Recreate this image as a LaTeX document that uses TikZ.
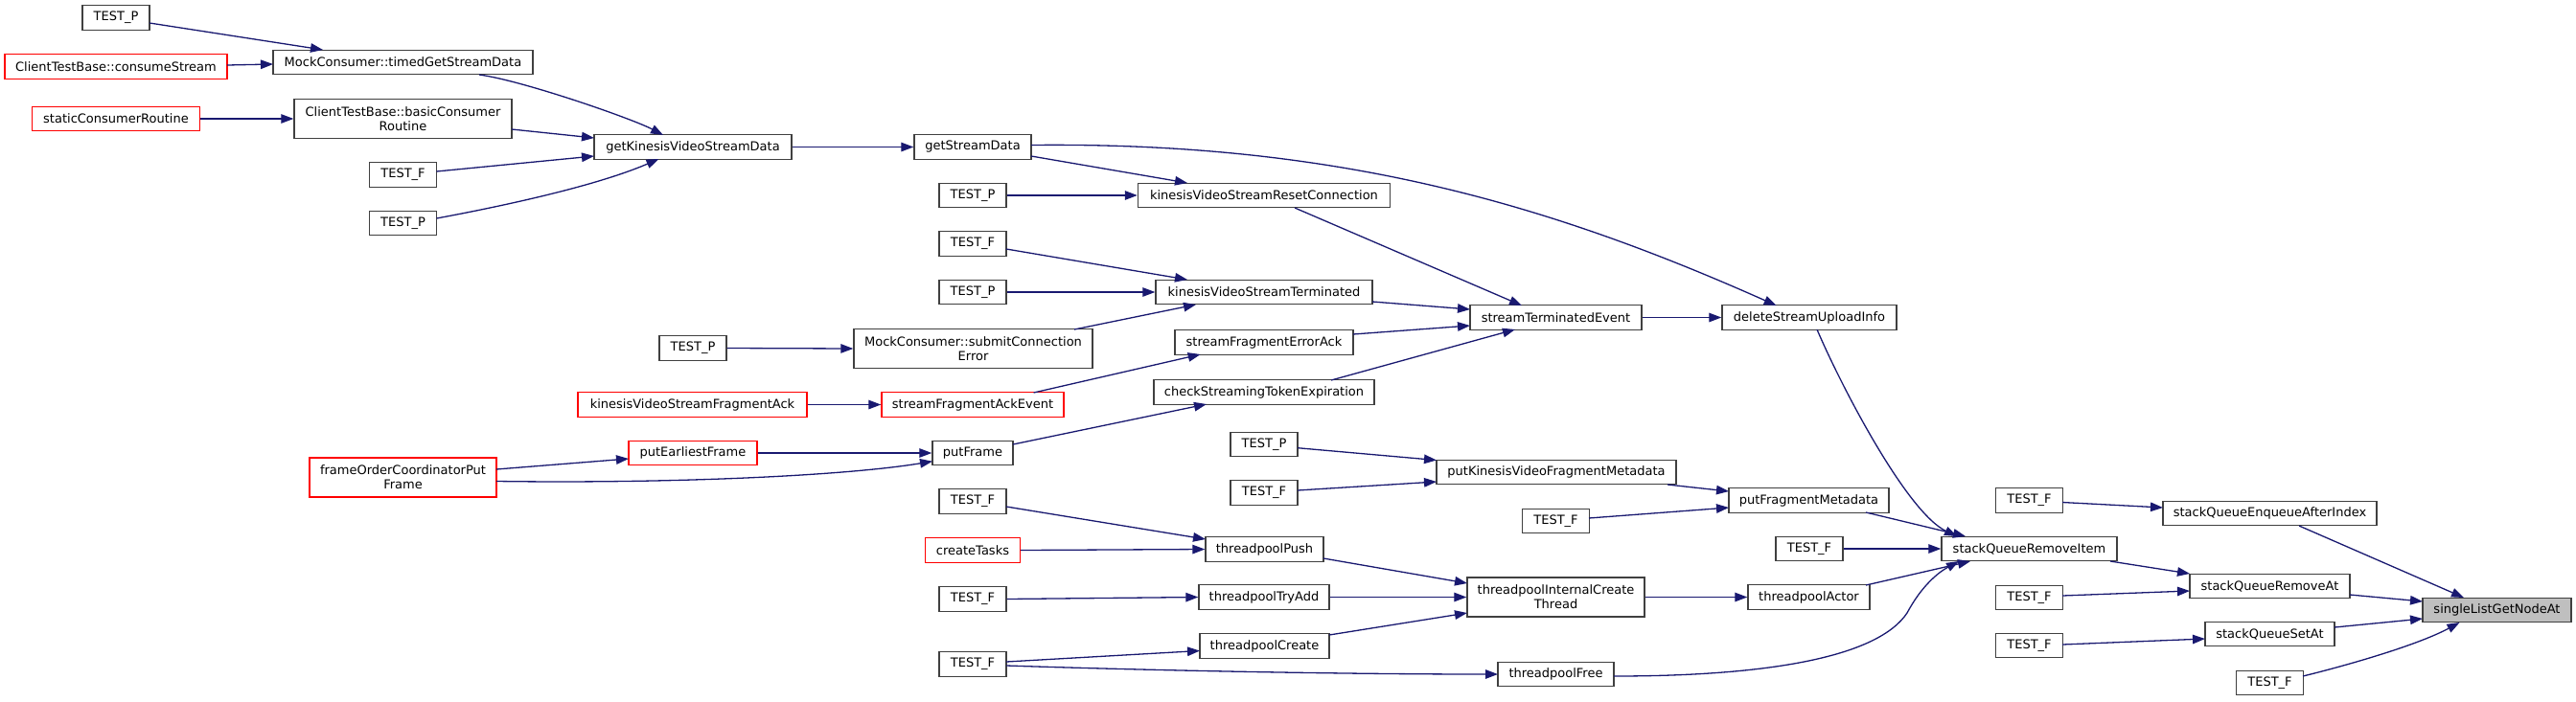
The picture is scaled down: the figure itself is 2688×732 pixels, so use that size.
\documentclass[tikz,border=0pt]{standalone}
\usepackage{fontspec}
\setmainfont{DejaVu Sans}
\usetikzlibrary{arrows.meta}
\definecolor{edgeblue}{HTML}{191970}
\definecolor{boxgray}{HTML}{404040}
\definecolor{fillgray}{HTML}{BFBFBF}
\definecolor{boxred}{HTML}{FF0000}
\tikzset{
  fn/.style={draw=boxgray, line width=1.4pt, fill=white, inner sep=0pt,
    minimum height=25.5pt, font=\fontsize{13}{15}\selectfont, align=center},
  redfn/.style={fn, draw=boxred},
  curfn/.style={fn, fill=fillgray},
  tall/.style={minimum height=41pt},
  tbox/.style={fn, minimum width=70pt},
  call/.style={draw=edgeblue, line width=1.3pt, -{Triangle[length=13pt,width=9.5pt]}},
}
\begin{document}
\begin{tikzpicture}[x=1pt,y=-1pt]
\useasboundingbox (0,0) rectangle (2688,732);
% column 0
\node[tbox] (tp1) at (121,18.5) {TEST\_P};
\node[redfn, minimum width=232pt] (cs) at (121,69.5) {ClientTestBase::consumeStream};
\node[redfn, minimum width=175pt] (scr) at (121,124) {staticConsumerRoutine};
% column 1
\node[fn, minimum width=271pt] (tgs) at (420.5,65) {MockConsumer::timedGetStreamData};
\node[fn, tall, minimum width=227pt] (bcr) at (420.5,124) {ClientTestBase::basicConsumer\\Routine};
\node[tbox] (tf1) at (420.5,182.5) {TEST\_F};
\node[tbox] (tp2) at (420.5,233) {TEST\_P};
\node[redfn, tall, minimum width=195pt] (fop) at (420.5,498.5) {frameOrderCoordinatorPut\\Frame};
% column 2
\node[fn, minimum width=206pt] (gkv) at (723,153.5) {getKinesisVideoStreamData};
\node[tbox] (tp3) at (723,363.5) {TEST\_P};
\node[redfn, minimum width=239pt] (kfa) at (722.5,422.5) {kinesisVideoStreamFragmentAck};
\node[redfn, minimum width=134pt] (pef) at (723,473) {putEarliestFrame};
% column 3
\node[fn, minimum width=122pt] (gsd) at (1015,153.5) {getStreamData};
\node[tbox] (tp4) at (1015,204) {TEST\_P};
\node[tbox] (tf2) at (1015,254.5) {TEST\_F};
\node[tbox] (tp5) at (1015,305) {TEST\_P};
\node[fn, tall, minimum width=249pt] (sce) at (1015.5,364) {MockConsumer::submitConnection\\Error};
\node[redfn, minimum width=190pt] (sfa) at (1015,422.5) {streamFragmentAckEvent};
\node[fn, minimum width=84pt] (pf) at (1015,473) {putFrame};
\node[tbox] (tf3) at (1015,523.5) {TEST\_F};
\node[redfn, minimum width=99pt] (ct) at (1015,574.5) {createTasks};
\node[tbox] (tf4) at (1015,625.5) {TEST\_F};
\node[tbox] (tf5) at (1015,693.5) {TEST\_F};
% column 4
\node[fn, minimum width=263pt] (krc) at (1319,204) {kinesisVideoStreamResetConnection};
\node[fn, minimum width=226pt] (kst) at (1319,305) {kinesisVideoStreamTerminated};
\node[fn, minimum width=186pt] (sfe) at (1319,357.5) {streamFragmentErrorAck};
\node[fn, minimum width=230pt] (cst) at (1319,409.5) {checkStreamingTokenExpiration};
\node[tbox] (tp6) at (1319,464) {TEST\_P};
\node[tbox] (tf6) at (1319,514.5) {TEST\_F};
\node[fn, minimum width=123pt] (tpp) at (1319.5,573.5) {threadpoolPush};
\node[fn, minimum width=136pt] (tta) at (1319,623.5) {threadpoolTryAdd};
\node[fn, minimum width=135pt] (tpc) at (1319.5,674.5) {threadpoolCreate};
% column 5
\node[fn, minimum width=179pt] (ste) at (1623.5,331.5) {streamTerminatedEvent};
\node[fn, minimum width=250pt] (pkv) at (1624,493) {putKinesisVideoFragmentMetadata};
\node[tbox] (tf7) at (1623.5,544) {TEST\_F};
\node[fn, tall, minimum width=185pt] (tic) at (1623.5,623.5) {threadpoolInternalCreate\\Thread};
\node[fn, minimum width=121pt] (tfr) at (1623.5,704) {threadpoolFree};
% column 6
\node[fn, minimum width=182pt] (dsu) at (1888,331.5) {deleteStreamUploadInfo};
\node[fn, minimum width=167pt] (pfm) at (1887.5,522.5) {putFragmentMetadata};
\node[tbox] (tf8) at (1888,573) {TEST\_F};
\node[fn, minimum width=127pt] (tpa) at (1887.5,623.5) {threadpoolActor};
% column 7
\node[tbox] (tf9) at (2117.5,522.5) {TEST\_F};
\node[fn, minimum width=183pt] (sqri) at (2117.5,573) {stackQueueRemoveItem};
\node[tbox] (tf10) at (2117.5,624) {TEST\_F};
\node[tbox] (tf11) at (2117.5,674) {TEST\_F};
% column 8
\node[fn, minimum width=223pt] (sqea) at (2368.5,536) {stackQueueEnqueueAfterIndex};
\node[fn, minimum width=167pt] (sqra) at (2368.5,612) {stackQueueRemoveAt};
\node[fn, minimum width=135pt] (sqsa) at (2368.5,662) {stackQueueSetAt};
\node[tbox] (tf12) at (2368.5,713) {TEST\_F};
% column 9
\node[curfn, minimum width=155pt] (sl) at (2605.5,637) {singleListGetNodeAt};

% edges
\draw[call] ([shift={(35,5.5)}]tp1.center) -- ([shift={(-83.5,-13)}]tgs.center);
\draw[call] ([shift={(116,-1.5)}]cs.center) -- ([shift={(-135.5,2)}]tgs.center);
\draw[call] (scr.east) -- (bcr.west);
\draw[call] ([shift={(79.5,13)}]tgs.center) .. controls (545,84) and (660,124) .. ([shift={(-31,-12.5)}]gkv.center);
\draw[call] ([shift={(113.5,11)}]bcr.center) -- ([shift={(-103,-9.5)}]gkv.center);
\draw[call] ([shift={(35,-3.5)}]tf1.center) -- ([shift={(-103,9.5)}]gkv.center);
\draw[call] ([shift={(35,-5)}]tp2.center) .. controls (520,216) and (620,195) .. ([shift={(-35.5,12.5)}]gkv.center);
\draw[call] (gkv.east) -- (gsd.west);
\draw[call] ([shift={(61,-2)}]gsd.center) .. controls (1400,148) and (1620,215) .. ([shift={(-34.4,-12.5)}]dsu.center);
\draw[call] ([shift={(61,9.5)}]gsd.center) -- ([shift={(-80,-13)}]krc.center);
\draw[call] (tp4.east) -- (krc.west);
\draw[call] ([shift={(32,13)}]krc.center) -- ([shift={(-35.5,-12.5)}]ste.center);
\draw[call] ([shift={(35,5.5)}]tf2.center) -- ([shift={(-80,-13)}]kst.center);
\draw[call] (tp5.east) -- (kst.west);
\draw[call] ([shift={(105.5,-20)}]sce.center) -- ([shift={(-71,13)}]kst.center);
\draw[call] (tp3.east) -- (sce.west);
\draw[call] ([shift={(113,10)}]kst.center) -- ([shift={(-89.5,-8.5)}]ste.center);
\draw[call] ([shift={(93,-8.5)}]sfe.center) -- ([shift={(-89.5,8.5)}]ste.center);
\draw[call] ([shift={(70,-12.5)}]cst.center) -- ([shift={(-42.5,12.5)}]ste.center);
\draw[call] (ste.east) -- (dsu.west);
\draw[call] ([shift={(8,12.5)}]dsu.center) .. controls (1922,405) and (1990,535) .. ([shift={(-75.5,-13)}]sqri.center);
\draw[call] (kfa.east) -- (sfa.west);
\draw[call] ([shift={(63.6,-12.5)}]sfa.center) -- ([shift={(-66.3,12.5)}]sfe.center);
\draw[call] ([shift={(42,-9)}]pf.center) -- ([shift={(-60,12.5)}]cst.center);
\draw[call] (pef.east) -- (pf.west);
\draw[call] ([shift={(97.5,-8.5)}]fop.center) -- ([shift={(-67,6)}]pef.center);
\draw[call] ([shift={(97.5,4)}]fop.center) .. controls (700,505) and (880,497) .. ([shift={(-42,8.7)}]pf.center);
\draw[call] ([shift={(35,3.7)}]tp6.center) -- ([shift={(-125,-12.5)}]pkv.center);
\draw[call] ([shift={(35,-2.5)}]tf6.center) -- ([shift={(-125,10)}]pkv.center);
\draw[call] ([shift={(116,13)}]pkv.center) -- ([shift={(-83.5,-9.5)}]pfm.center);
\draw[call] ([shift={(34.5,-3)}]tf7.center) -- ([shift={(-83.5,7.5)}]pfm.center);
\draw[call] ([shift={(59.5,12.5)}]pfm.center) -- ([shift={(-66.5,-13)}]sqri.center);
\draw[call] (tf8.east) -- (sqri.west);
\draw[call] ([shift={(59.5,-12.5)}]tpa.center) -- ([shift={(-61.5,13)}]sqri.center);
\draw[call] ([shift={(60.5,2)}]tfr.center) .. controls (1850,706) and (1960,685) .. (1990,640) .. controls (2005,612) and (2022,598) .. ([shift={(-73.5,13)}]sqri.center);
\draw[call] ([shift={(34.5,2)}]tf9.center) -- ([shift={(-111.5,-6)}]sqea.center);
\draw[call] ([shift={(30.5,13)}]sqea.center) -- ([shift={(-34.5,-13)}]sl.center);
\draw[call] ([shift={(84.5,13)}]sqri.center) -- ([shift={(-83.5,-13)}]sqra.center);
\draw[call] ([shift={(34.5,-2)}]tf10.center) -- ([shift={(-83.5,5)}]sqra.center);
\draw[call] ([shift={(83.5,9)}]sqra.center) -- ([shift={(-77.5,-9)}]sl.center);
\draw[call] ([shift={(67.5,-7)}]sqsa.center) -- ([shift={(-77.5,9)}]sl.center);
\draw[call] ([shift={(34.5,-1)}]tf11.center) -- ([shift={(-67.5,5)}]sqsa.center);
\draw[call] ([shift={(34.5,-7)}]tf12.center) .. controls (2440,697) and (2520,675) .. ([shift={(-39,13)}]sl.center);
\draw[call] ([shift={(35,5.5)}]tf3.center) -- ([shift={(-61.5,-10.5)}]tpp.center);
\draw[call] (ct.east) -- (tpp.west);
\draw[call] (tf4.east) -- (tta.west);
\draw[call] ([shift={(61.5,9.5)}]tpp.center) -- ([shift={(-92.5,-14.5)}]tic.center);
\draw[call] (tta.east) -- (tic.west);
\draw[call] ([shift={(67.5,-11.5)}]tpc.center) -- ([shift={(-92.5,16.5)}]tic.center);
\draw[call] (tic.east) -- (tpa.west);
\draw[call] ([shift={(35,-2.5)}]tf5.center) -- ([shift={(-67.5,5)}]tpc.center);
\draw[call] ([shift={(35,1.5)}]tf5.center) .. controls (1200,700) and (1400,704) .. ([shift={(-60.5,0)}]tfr.center);
\end{tikzpicture}
\end{document}
